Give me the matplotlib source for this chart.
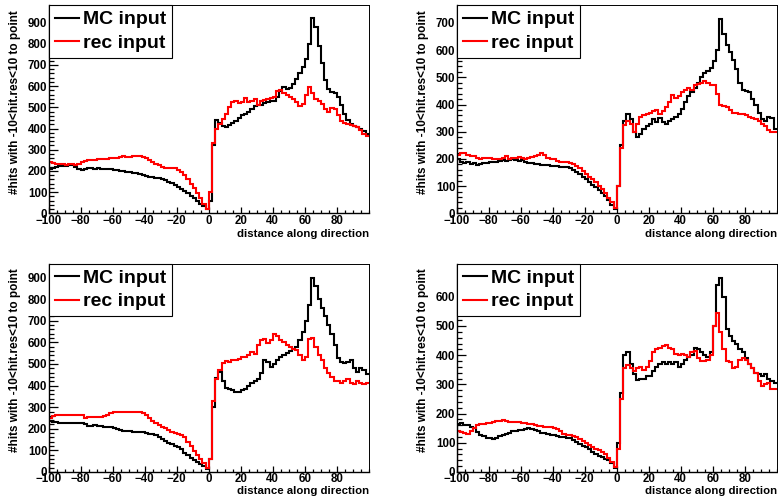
import numpy as np
import matplotlib
matplotlib.use("Agg")
import matplotlib.pyplot as plt
from matplotlib.ticker import MultipleLocator

plt.rcParams['font.family'] = ['Liberation Sans', 'DejaVu Sans']
plt.rcParams['font.weight'] = 'bold'

# ---- data: 100 bins of width 2 from -100 to 100 ----
x_min, x_max, n_bins = -100, 100, 100
labels = ["MC input", "rec input"]

mc1 = [210,215,220,222,225,225,230,228,218,210, 205,208,212,212,210,212,210,211,209,208,
       206,203,200,200,196,193,190,188,185,182, 176,172,170,168,166,160,155,150,142,132,
       125,115,105,95,83,72,60,46,33,18,
       60,320,440,425,410,408,415,425,435,450, 462,470,480,490,505,512,510,520,525,530,
       528,550,575,595,585,590,610,635,660,690, 730,800,920,880,790,710,630,585,572,570,
       550,510,470,440,420,410,405,398,390,375]
rec1 = [240,238,235,233,232,230,232,233,230,235, 240,248,250,252,250,255,256,255,258,260,
        262,262,266,270,265,266,270,272,270,268, 262,250,242,235,226,220,216,215,213,212,
        205,195,180,160,140,118,95,70,45,20,
        100,330,400,420,445,470,500,525,530,520, 525,545,525,530,540,510,530,535,540,545,
        548,575,580,568,560,550,540,525,505,515, 560,595,570,540,530,515,490,480,495,490,
        465,435,425,420,415,410,408,395,375,365]

mc2 = [200,190,185,188,183,185,178,180,185,185, 187,190,188,192,195,192,196,198,195,193,
       197,190,186,184,182,180,178,177,176,175, 174,173,172,171,170,165,160,152,145,135,
       125,115,105,95,85,75,62,48,32,15,
       100,250,340,365,345,300,282,290,310,320, 330,345,335,350,335,330,340,348,355,365,
       385,410,430,445,460,480,500,515,525,535, 560,600,715,660,620,595,565,530,480,455,
       450,445,420,400,370,345,340,355,350,310]
rec2 = [215,220,222,215,212,210,205,200,202,205, 205,200,198,200,205,210,200,205,203,208,
        205,200,205,207,210,215,222,215,205,200, 198,192,188,190,188,186,180,175,165,155,
        145,135,125,115,102,90,75,58,40,20,
        100,240,325,338,330,300,330,355,360,365, 370,375,380,365,375,390,410,435,425,430,
        445,455,460,455,470,475,480,485,480,470, 470,440,400,395,390,380,370,370,365,365,
        360,355,350,345,340,330,320,305,300,300]

mc3 = [235,232,230,228,226,225,227,226,228,228, 225,220,215,215,216,215,213,210,208,206,
       203,200,196,192,190,188,186,185,184,183, 182,178,175,170,162,155,145,135,128,122,
       118,105,90,78,66,55,46,38,28,15,
       60,300,435,465,420,388,382,380,370,372, 380,385,400,410,420,432,460,520,510,485,
       500,520,530,540,550,560,570,580,610,650, 700,775,900,860,800,760,720,680,640,590,
       528,510,505,510,520,480,465,480,470,455]
rec3 = [250,258,262,265,263,262,262,264,262,262, 265,250,255,255,255,255,256,258,265,275,
        278,278,278,280,280,280,280,280,278,275, 262,248,238,228,218,210,203,195,185,180,
        176,172,160,140,120,97,78,60,42,20,
        60,330,430,470,505,515,510,520,520,525, 530,530,540,555,545,590,610,615,595,610,
        640,630,610,600,590,580,570,565,540,520, 530,615,620,580,540,520,480,460,440,420,
        420,410,420,430,410,405,420,410,405,410]

mc4 = [165,168,162,160,155,150,138,128,122,118, 115,113,117,122,127,131,135,140,142,145,
       145,147,152,148,145,140,135,132,130,128, 125,122,120,120,118,115,110,103,96,90,
       85,78,70,62,56,50,46,40,30,15,
       100,270,400,410,370,335,315,320,318,330, 330,345,360,370,375,370,375,370,375,360,
       370,385,395,400,425,420,410,400,395,410, 500,640,665,600,490,465,450,440,420,410,
       390,370,355,340,335,330,335,320,310,305]
rec4 = [140,138,134,130,140,152,162,165,166,167, 168,170,174,176,178,175,172,171,170,170,
        168,168,165,163,160,158,156,155,155,154, 152,148,140,130,126,125,124,120,112,105,
        100,92,85,80,75,70,60,48,35,18,
        80,250,355,368,355,345,355,360,350,360, 380,410,420,425,430,435,425,420,405,400,
        405,400,395,410,415,390,380,380,385,400, 500,545,480,420,380,375,355,360,385,390,
        385,370,355,340,310,295,300,305,285,285]

y_tops = [983, 766, 965, 714]
y_tick_max = [900, 700, 900, 600]
x_ticks = [-100, -80, -60, -40, -20, 0, 20, 40, 60, 80]

panels = [(mc1, rec1), (mc2, rec2), (mc3, rec3), (mc4, rec4)]
edges = np.linspace(x_min, x_max, n_bins + 1)

W, H = 778, 499
fig = plt.figure(figsize=(W / 100, H / 100), dpi=100)
fig.patch.set_facecolor('white')

boxes = [
    (48.7, 5, 320, 208.3),
    (456.7, 5, 320, 208.3),
    (48.7, 263.5, 320, 208.5),
    (456.7, 263.5, 320, 208.5),
]
xlabel_y = [-0.075, -0.075, -0.067, -0.067]

def step_xy(vals):
    v = np.asarray(vals, dtype=float)
    xs = np.concatenate([[edges[0]], np.repeat(edges, 2)[1:-1]])
    ys = np.concatenate([[0.0], np.repeat(v, 2)])
    return xs, ys

for k, ((mc, rec), (lx, ty, w, h)) in enumerate(zip(panels, boxes)):
    ax = fig.add_axes([lx / W, 1 - (ty + h) / H, w / W, h / H])
    xs, ys = step_xy(mc)
    ax.plot(xs, ys, color='black', lw=1.5, label=labels[0], solid_joinstyle='miter')
    xs, ys = step_xy(rec)
    ax.plot(xs, ys, color='#ff0000', lw=1.5, label=labels[1], solid_joinstyle='miter')
    ax.set_xlim(x_min, x_max)
    ax.set_ylim(0, y_tops[k])
    ax.set_xticks(x_ticks)
    ax.set_xticklabels([str(t).replace('-', '\u2212') for t in x_ticks])
    ax.set_yticks(np.arange(0, y_tick_max[k] + 1, 100))
    ax.xaxis.set_minor_locator(MultipleLocator(5))
    ax.yaxis.set_minor_locator(MultipleLocator(20))
    ax.tick_params(axis='x', which='major', direction='in', length=4.5, width=0.9,
                   labelsize=8.3, pad=1.0, top=False)
    ax.tick_params(axis='x', which='minor', direction='in', length=2.3, width=0.9, top=False)
    ax.tick_params(axis='y', which='major', direction='in', length=6.5, width=0.9,
                   labelsize=8.3, pad=1.0, right=False)
    ax.tick_params(axis='y', which='minor', direction='in', length=3.3, width=0.9, right=False)
    for lab in ax.get_xticklabels() + ax.get_yticklabels():
        lab.set_fontweight('bold')
    for s in ['left', 'bottom']:
        ax.spines[s].set_linewidth(1.0)
    for s in ['top', 'right']:
        ax.spines[s].set_linewidth(0.7)
    ax.set_xlabel('distance along direction', fontsize=8.2, fontweight='bold', ha='right', va='top')
    ax.xaxis.set_label_coords(1.0, xlabel_y[k])
    ax.set_ylabel('#hits with -10<hit.res<10 to point', fontsize=8.5, fontweight='bold', ha='right')
    ax.yaxis.set_label_coords(-0.088, 0.975)
    leg = ax.legend(loc='upper left', bbox_to_anchor=(0, 1), borderaxespad=0,
                    fancybox=False, framealpha=1, edgecolor='black',
                    prop={'size': 14, 'weight': 'bold'}, handlelength=1.25,
                    handletextpad=0.2, borderpad=0.3, labelspacing=0.3)
    leg.get_frame().set_linewidth(0.8)
    for line in leg.get_lines():
        line.set_linewidth(1.5)

fig.savefig('out.png', dpi=100, facecolor='white')
